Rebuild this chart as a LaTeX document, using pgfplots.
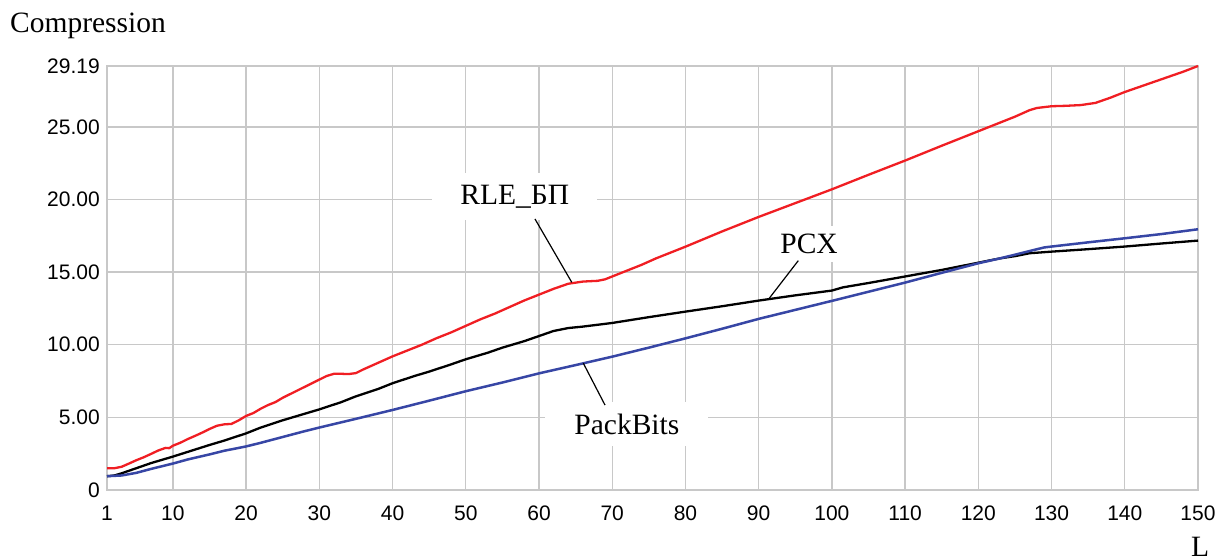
\documentclass[border=0pt]{standalone}
\usepackage{pgfplots}
\pgfplotsset{compat=1.18}
\usepackage{fontspec}
\setmainfont{Liberation Serif}
\newfontfamily\arialfont{Liberation Sans}
\definecolor{gridgray}{RGB}{200,200,200}
\definecolor{cred}{RGB}{240,30,35}
\definecolor{cblue}{RGB}{55,70,165}
\begin{document}
\begin{tikzpicture}[x=1pt,y=1pt]
\useasboundingbox (0,0) rectangle (1217,555);
\begin{axis}[
  at={(107pt,65pt)}, anchor=south west,
  scale only axis, width=1091pt, height=424pt,
  xmin=1, xmax=150, ymin=0, ymax=29.19,
  xtick={1,10,20,...,150},
  ytick={0,5,10,15,20,25,29.19},
  yticklabels={0,5.00,10.00,15.00,20.00,25.00,29.19},
  grid=major,
  grid style={gridgray, line width=1.3pt},
  axis line style={gridgray, line width=1.3pt},
  major tick length=0pt,
  tick label style={font=\arialfont\fontsize{21}{25}\selectfont, /pgf/number format/assume math mode=true},
  xticklabel style={anchor=north, inner sep=0pt, yshift=-16pt},
  yticklabel style={anchor=east, inner sep=0pt, xshift=-7pt},
  clip=false,
]
\node[fill=white, inner xsep=28pt, inner ysep=12pt, font=\fontsize{29.5}{33}\selectfont] at (axis cs:56.7,20.18) {RLE\_БП};
\node[fill=white, inner xsep=29pt, inner ysep=12pt, font=\fontsize{29.5}{33}\selectfont] at (axis cs:72.0,4.55) {PackBits};
\node[fill=white, inner xsep=20pt, inner ysep=8pt, font=\fontsize{29.5}{33}\selectfont] at (axis cs:96.88,16.94) {PCX};

\addplot[cred, line width=2.3pt, line join=round, mark=none] coordinates {
(1,1.50) (2,1.50) (3,1.60) (4,1.82) (5,2.05) (6,2.25) (7,2.48) (8,2.72) (9,2.90) (9.5,2.88) (10,3.05)
(11,3.25) (12,3.50) (13,3.72) (14,3.95) (15,4.20) (16,4.42) (17,4.52) (18,4.55) (19,4.80) (20,5.10)
(21,5.30) (22,5.60) (23,5.85) (24,6.05) (25,6.35) (26,6.60) (27,6.85) (28,7.10) (29,7.35) (30,7.60)
(31,7.85) (32,8.00) (33,8.00) (34,7.98) (35,8.05) (36,8.30) (38,8.75) (40,9.20) (42,9.60) (44,10.0)
(46,10.45) (48,10.85) (50,11.30) (52,11.75) (54,12.15) (56,12.60) (58,13.05) (60,13.45) (62,13.85)
(64,14.20) (66,14.35) (68,14.40) (69,14.50) (70,14.70) (72,15.10) (74,15.50) (76,15.95) (78,16.35)
(80,16.75) (85,17.80) (90,18.80) (95,19.75) (100,20.70) (105,21.70) (110,22.68) (115,23.70)
(120,24.70) (125,25.70) (127,26.15) (128,26.30) (130,26.42) (132,26.45) (134,26.50) (136,26.65)
(138,27.00) (140,27.40) (142,27.75) (144,28.10) (146,28.45) (148,28.80) (150,29.19)
};
\addplot[black, line width=2.3pt, line join=round, mark=none] coordinates {
(1,0.95) (2,1.0) (3,1.15) (5,1.50) (7,1.85) (10,2.30) (12,2.62) (15,3.10) (17,3.40) (20,3.90)
(22,4.30) (25,4.80) (28,5.25) (30,5.55) (33,6.05) (35,6.45) (38,6.95) (40,7.35) (43,7.85) (45,8.15)
(48,8.65) (50,9.0) (53,9.45) (55,9.80) (58,10.25) (60,10.60) (62,10.95) (64,11.15) (66,11.25)
(70,11.50) (75,11.90) (80,12.28) (85,12.65) (90,13.04) (95,13.40) (100,13.73) (101.5,13.95)
(105,14.25) (110,14.70) (115,15.15) (120,15.65) (123,15.95) (125,16.10) (127,16.30) (130,16.41)
(135,16.58) (140,16.76) (145,16.97) (150,17.17)
};
\addplot[cblue, line width=2.5pt, line join=round, mark=none] coordinates {
(1,0.95) (3,1.0) (5,1.18) (7,1.45) (10,1.82) (12,2.10) (15,2.45) (17,2.70) (20,3.0) (22,3.25)
(25,3.65) (28,4.05) (30,4.30) (35,4.90) (40,5.51) (45,6.15) (50,6.80) (55,7.40) (60,8.03) (65,8.60)
(70,9.18) (75,9.80) (80,10.44) (85,11.10) (90,11.78) (95,12.40) (100,13.02) (105,13.65) (110,14.28)
(115,14.95) (120,15.61) (123,15.95) (125,16.20) (127,16.45) (129,16.70) (130,16.76) (135,17.05)
(140,17.33) (145,17.62) (150,17.95)
};

\draw[black, line width=1.2pt] (axis cs:59.45,18.66) -- (axis cs:64.47,14.30);
\draw[black, line width=1.2pt] (axis cs:66.05,8.73) -- (axis cs:69.01,5.85);
\draw[black, line width=1.2pt] (axis cs:95.41,15.79) -- (axis cs:91.45,13.20);
\end{axis}
\node[anchor=base west, inner sep=0pt, font=\fontsize{29.5}{33}\selectfont] at (10,522) {Compression};
\node[anchor=base west, inner sep=0pt, font=\fontsize{29.5}{33}\selectfont] at (1191,-1) {L};
\end{tikzpicture}
\end{document}
